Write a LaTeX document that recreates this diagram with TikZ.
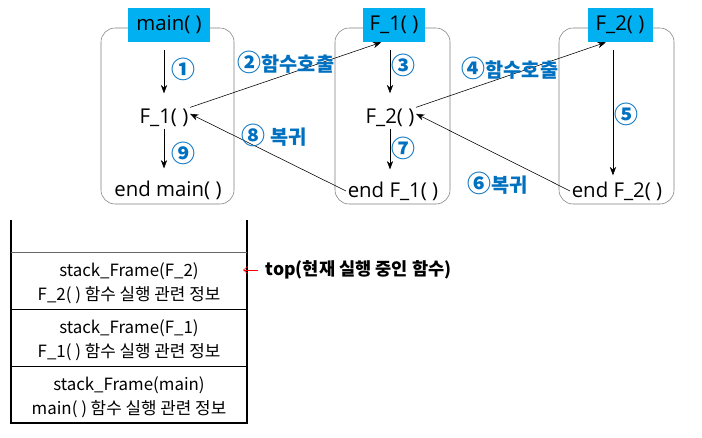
\documentclass[tikz,border=0pt]{standalone}
\usepackage{fontspec}
\setmainfont{Open Sans}
\newfontfamily\kr{Noto Sans CJK KR}
\usetikzlibrary{arrows.meta}
\definecolor{hdcyan}{HTML}{00B0F0}
\definecolor{stepblue}{HTML}{0070C0}
\newcommand\cnum[1]{{\fontsize{17}{16}\selectfont #1}}

\begin{document}
\begin{tikzpicture}[x=0.025cm,y=-0.025cm,
  every node/.style={inner sep=1pt},
  frame/.style={draw=black!50,rounded corners=10pt},
  head/.style={fill=hdcyan,minimum height=0.85cm,font=\fontsize{14.5}{17}\selectfont},
  code/.style={font=\fontsize{14.5}{17}\selectfont},
  stepnum/.style={text=stepblue,font=\kr\bfseries\fontsize{14}{16}\selectfont},
  flow/.style={-{Stealth[length=6pt,width=4.5pt]}},
  slot/.style={align=center,font=\kr\fontsize{12}{17}\selectfont},
  pointer/.style={red,-{Straight Barb[length=3pt,width=5pt]}}]

\useasboundingbox (0,0) rectangle (702,437);

% call frames
\draw [frame] (101,28) rectangle (234,204);
\draw [frame] (335,28) rectangle (450,204);
\draw [frame] (559,28) rectangle (674,204);

\node [head,minimum width=2.05cm]  (hdmain) at (169,25) {main( )};
\node [head,minimum width=1.55cm]  (hdF1)   at (394,25) {F\_1( )};
\node [head,minimum width=1.625cm] (hdF2)   at (620,25) {F\_2( )};

\node [code] (callF1)  at (164,118) {F\_1( )};
\node [code] (endmain) at (168,190) {end main( )};
\node [code] (callF2)  at (390,118) {F\_2( )};
\node [code] (endF1)   at (393,191) {end F\_1( )};
\node [code] (endF2)   at (617,191) {end F\_2( )};

% steps inside each frame
\draw [flow,shorten <=5.7pt,shorten >=10pt] (hdmain.south -| callF1) -- (callF1.north);
\draw [flow,shorten >=7.5pt] (callF1.south) -- (callF1.south |- endmain.north);
\draw [flow,shorten <=5.7pt,shorten >=10pt] (hdF1.south -| callF2) -- (callF2.north);
\draw [flow,shorten >=7.5pt] (callF2.south) -- (callF2.south |- endF1.north);
\draw [flow,shorten <=5.7pt,shorten >=3.3pt] ([xshift=-5pt]hdF2.south) -- ([xshift=-5pt]hdF2.south |- endF2.north);

\node [stepnum] (s1) at (183,69)  {\cnum{①}};
\node [stepnum] (s9) at (183,153) {\cnum{⑨}};
\node [stepnum] (s3) at (403,65)  {\cnum{③}};
\node [stepnum] (s7) at (403,148) {\cnum{⑦}};
\node [stepnum] (s5) at (626,114) {\cnum{⑤}};

% calls and returns
\draw [flow] (callF1.north east) -- ([xshift=-9pt]hdF1.south);
\draw [flow] (callF2.north east) -- ([xshift=-10pt]hdF2.south);
\draw [flow] (endF1.west) -- ([yshift=3pt]callF1.east);
\draw [flow] (endF2.west) -- ([yshift=3pt]callF2.east);

\node [stepnum] (call2) at (286,62)  {\cnum{②}함수호출};
\node [stepnum] (call4) at (510,68)  {\cnum{④}함수호출};
\node [stepnum] (ret8)  at (274,135) {\cnum{⑧} 복귀};
\node [stepnum] (ret6)  at (498,183) {\cnum{⑥}복귀};

% run-time stack
\draw [line width=1.4pt] (11,220) -- (11,423) -- (247,423) -- (247,220);
\draw [black!60] (11,252) -- (247,252);
\draw (11,309) -- (247,309);
\draw (11,366) -- (247,366);

\node [slot] (frF2)   at (129,283) {stack\_Frame(F\_2)\\F\_2( ) 함수 실행 관련 정보};
\node [slot] (frF1)   at (129,340) {stack\_Frame(F\_1)\\F\_1( ) 함수 실행 관련 정보};
\node [slot] (frmain) at (129,397) {stack\_Frame(main)\\main( ) 함수 실행 관련 정보};

\node [anchor=west,font=\kr\bfseries\fontsize{12.5}{15}\selectfont] (toplbl) at (264,270) {top(현재 실행 중인 함수)};
\coordinate (wall) at (243,270);
\draw [pointer,shorten <=4pt] (toplbl.west) -- (wall);

\end{tikzpicture}
\end{document}
